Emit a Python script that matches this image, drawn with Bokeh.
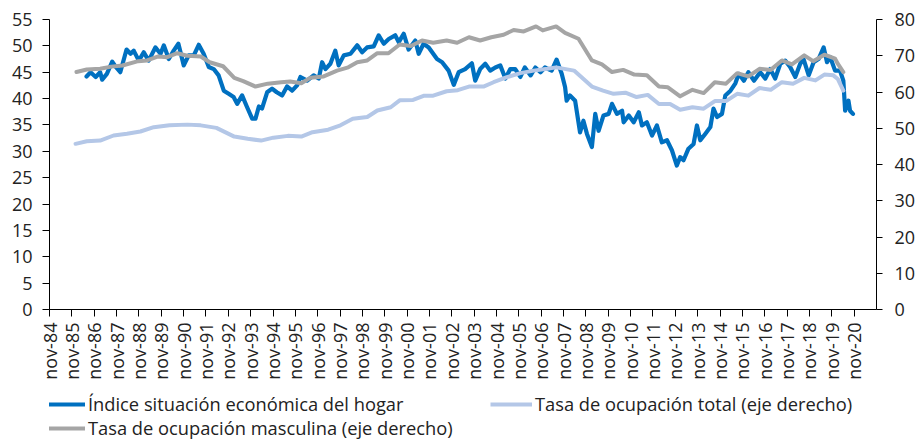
import math
from bokeh.plotting import figure
from bokeh.layouts import column
from bokeh.models import Range1d, LinearAxis, FixedTicker, Legend, LegendItem
from bokeh.embed import file_html
from bokeh.resources import INLINE

# ---------------- data (decimal years, values) ----------------
tick_labels = ["nov-84", "nov-85", "nov-86", "nov-87", "nov-88", "nov-89", "nov-90",
               "nov-91", "nov-92", "nov-93", "nov-94", "nov-95", "nov-96", "nov-97",
               "nov-98", "nov-99", "nov-00", "nov-01", "nov-02", "nov-03", "nov-04",
               "nov-05", "nov-06", "nov-07", "nov-08", "nov-09", "nov-10", "nov-11",
               "nov-12", "nov-13", "nov-14", "nov-15", "nov-16", "nov-17", "nov-18",
               "nov-19", "nov-20"]

hogar_t = [1986.49, 1986.67, 1986.90, 1987.10, 1987.19, 1987.40, 1987.64, 1987.80, 1988.00,
           1988.28, 1988.46, 1988.60, 1988.83, 1989.05, 1989.27, 1989.57, 1989.80, 1989.95,
           1990.17, 1990.39, 1990.60, 1990.84, 1991.06, 1991.29, 1991.51, 1991.73, 1991.96,
           1992.18, 1992.40, 1992.63, 1992.85, 1993.07, 1993.23, 1993.45, 1993.67, 1993.90,
           1994.05, 1994.20, 1994.34, 1994.57, 1994.79, 1995.00, 1995.24, 1995.46, 1995.69,
           1995.91, 1996.06, 1996.36, 1996.65, 1996.88, 1997.03, 1997.18, 1997.40, 1997.62,
           1997.77, 1998.00, 1998.30, 1998.60, 1998.82, 1999.04, 1999.34, 1999.56, 1999.79,
           2000.01, 2000.30, 2000.46, 2000.68, 2000.90, 2001.20, 2001.35, 2001.57, 2001.80,
           2002.17, 2002.40, 2002.69, 2002.92, 2003.14, 2003.43, 2003.73, 2003.88, 2004.10,
           2004.33, 2004.55, 2004.78, 2005.00, 2005.23, 2005.45, 2005.67, 2005.90, 2006.10,
           2006.36, 2006.57, 2006.80, 2007.00, 2007.30, 2007.52, 2007.75, 2007.90, 2007.97,
           2008.12, 2008.35, 2008.57, 2008.72, 2008.88, 2009.10, 2009.25, 2009.40, 2009.62,
           2009.85, 2010.00, 2010.22, 2010.45, 2010.52, 2010.75, 2010.97, 2011.20, 2011.34,
           2011.56, 2011.79, 2012.01, 2012.23, 2012.46, 2012.68, 2012.90, 2013.05, 2013.20,
           2013.42, 2013.65, 2013.80, 2013.95, 2014.17, 2014.40, 2014.54, 2014.70, 2014.92,
           2015.07, 2015.30, 2015.52, 2015.67, 2015.90, 2016.10, 2016.35, 2016.63, 2016.86,
           2017.08, 2017.30, 2017.53, 2017.75, 2017.97, 2018.20, 2018.42, 2018.57, 2018.80,
           2019.02, 2019.24, 2019.47, 2019.62, 2019.76, 2019.98, 2020.20, 2020.35, 2020.43,
           2020.58, 2020.65, 2020.78]
hogar_v = [44.2, 45.0, 44.1, 45.0, 43.6, 44.7, 47.0, 46.0, 45.0,
           49.3, 48.5, 49.1, 47.2, 48.8, 47.2, 49.7, 48.5, 50.1,
           47.5, 49.1, 50.4, 46.3, 48.2, 48.2, 50.2, 48.5, 46.0,
           45.6, 44.4, 41.5, 40.9, 40.3, 39.0, 40.6, 38.4, 36.2,
           36.2, 38.5, 38.1, 41.2, 41.9, 41.2, 40.6, 42.3, 41.5,
           42.5, 44.1, 43.4, 44.4, 43.8, 46.9, 45.6, 46.6, 49.1,
           46.3, 48.2, 48.5, 50.1, 48.8, 49.7, 49.9, 52.0, 50.4,
           51.3, 52.0, 50.7, 52.3, 49.3, 51.0, 48.5, 50.4, 49.7,
           47.5, 46.9, 45.3, 42.6, 45.0, 45.6, 46.7, 43.4, 45.6,
           46.6, 45.3, 45.9, 46.3, 43.8, 45.6, 45.6, 44.1, 45.9,
           44.4, 45.9, 45.0, 45.9, 45.3, 47.4, 44.7, 42.2, 39.6,
           40.6, 39.6, 33.6, 35.8, 33.3, 30.8, 37.1, 33.9, 36.8,
           37.1, 39.0, 37.1, 37.7, 35.5, 36.8, 35.5, 37.4, 34.9,
           35.5, 33.0, 34.9, 31.7, 32.1, 30.2, 27.3, 28.9, 28.3,
           30.5, 31.4, 34.9, 32.1, 33.3, 34.6, 38.1, 36.5, 37.1,
           40.6, 41.5, 42.9, 44.7, 43.4, 45.0, 43.4, 45.0, 43.8,
           45.6, 43.8, 46.6, 47.2, 46.0, 44.1, 46.6, 47.5, 44.4,
           46.9, 47.5, 49.7, 46.9, 47.9, 45.3, 45.3, 43.4, 37.7,
           39.6, 37.7, 37.1]

total_t = [1986.00, 1986.50, 1987.10, 1987.70, 1988.30, 1988.90, 1989.50, 1990.20, 1991.00,
           1991.60, 1992.30, 1993.10, 1993.70, 1994.30, 1994.85, 1995.50, 1996.10, 1996.60,
           1997.30, 1997.85, 1998.40, 1999.05, 1999.50, 2000.10, 2000.50, 2001.10, 2001.60,
           2002.00, 2002.60, 2003.10, 2003.60, 2004.25, 2004.70, 2005.30, 2005.90, 2006.50,
           2007.10, 2007.50, 2008.30, 2009.10, 2009.60, 2010.07, 2010.60, 2011.10, 2011.60,
           2012.10, 2012.60, 2013.05, 2013.60, 2014.10, 2014.60, 2015.10, 2015.60, 2016.10,
           2016.60, 2017.10, 2017.60, 2018.10, 2018.60, 2019.10, 2019.50, 2019.90, 2020.10,
           2020.35]
total_v = [45.7, 46.4, 46.6, 48.0, 48.5, 49.1, 50.3, 50.8, 51.0,
           50.8, 50.1, 47.7, 47.1, 46.6, 47.4, 47.9, 47.7, 48.9,
           49.6, 50.8, 52.6, 53.1, 54.9, 55.8, 57.7, 57.8, 59.0,
           59.0, 60.2, 60.5, 61.5, 61.5, 62.7, 64.1, 65.2, 65.9,
           66.4, 66.8, 65.9, 61.5, 60.4, 59.5, 59.8, 58.6, 59.2,
           56.7, 56.7, 55.1, 55.8, 55.4, 57.5, 57.5, 59.5, 59.0,
           61.1, 60.6, 62.7, 62.3, 63.9, 63.2, 64.8, 64.6, 63.6,
           60.4]

masc_t = [1986.04, 1986.50, 1987.10, 1987.60, 1988.10, 1988.80, 1989.20, 1989.70, 1990.10,
          1990.55, 1991.00, 1991.60, 1992.00, 1992.60, 1993.10, 1993.50, 1994.05, 1994.60,
          1995.20, 1995.60, 1996.10, 1996.50, 1997.10, 1997.70, 1998.20, 1998.60, 1999.05,
          1999.50, 2000.00, 2000.50, 2001.00, 2001.50, 2002.00, 2002.60, 2003.07, 2003.60,
          2004.10, 2004.60, 2005.15, 2005.60, 2006.05, 2006.60, 2006.90, 2007.50, 2007.90,
          2008.50, 2009.10, 2009.55, 2010.00, 2010.50, 2011.00, 2011.56, 2012.10, 2012.50,
          2013.05, 2013.60, 2014.10, 2014.60, 2015.10, 2015.60, 2016.10, 2016.60, 2017.10,
          2017.60, 2018.05, 2018.60, 2019.00, 2019.50, 2019.98, 2020.10, 2020.35]
masc_v = [65.5, 66.2, 66.4, 67.0, 67.3, 68.5, 68.7, 69.8, 69.6,
          70.7, 70.0, 69.8, 68.2, 67.1, 63.9, 63.0, 61.5, 62.3,
          62.7, 62.9, 62.4, 63.9, 64.3, 65.9, 66.8, 68.2, 68.7,
          70.7, 70.7, 73.1, 72.7, 74.2, 73.6, 74.2, 73.6, 75.1,
          74.2, 75.1, 75.8, 77.1, 76.7, 78.1, 77.0, 78.1, 76.3,
          74.7, 68.7, 67.6, 65.5, 66.1, 64.8, 64.6, 61.5, 61.3,
          58.8, 60.6, 59.7, 62.7, 62.3, 65.2, 64.3, 66.4, 66.1,
          68.7, 67.6, 70.1, 68.5, 70.3, 69.2, 67.8, 65.5]

left_ticks = [0, 5, 10, 15, 20, 25, 30, 35, 40, 45, 50, 55]
right_ticks = [0, 10, 20, 30, 40, 50, 60, 70, 80]
series_labels = ["Índice situación económica del hogar",
                 "Tasa de ocupación total (eje derecho)",
                 "Tasa de ocupación masculina (eje derecho)"]

# ---------------- helpers ----------------
def months(ts):
    # decimal year -> months since jan-1984 (x axis unit)
    return [(t - 1984.0) * 12.0 for t in ts]

tick_pos = [10 + 12 * k for k in range(len(tick_labels))]

FONT = "Open Sans"
TXT = "#222222"
BLUE = "#0070C0"
LBLUE = "#B4C7E7"
GRAY = "#A5A5A5"

W = 918
H_MAIN = 385
H_LEG = 55
BL, BR = 49, W - 876

p = figure(width=W, height=H_MAIN, output_backend="svg", toolbar_location=None,
           x_range=Range1d(10, 10 + 12 * 37), y_range=Range1d(0, 55),
           min_border_left=BL, min_border_right=BR, min_border_top=19,
           min_border_bottom=H_MAIN - 309)
p.extra_y_ranges = {"right": Range1d(0, 80)}
p.grid.visible = False
p.outline_line_color = None
p.background_fill_color = "white"
p.border_fill_color = "white"

# x axis
xa = p.xaxis[0]
xa.ticker = FixedTicker(ticks=tick_pos)
xa.major_label_overrides = {pos: lab for pos, lab in zip(tick_pos, tick_labels)}
xa.major_label_orientation = math.pi / 2
xa.major_tick_in = 0
xa.major_tick_out = 7
xa.minor_tick_line_color = None
xa.major_label_standoff = 6
xa.axis_line_color = "#000000"
xa.major_tick_line_color = "#000000"
xa.major_label_text_font = FONT
xa.major_label_text_font_size = "18px"
xa.major_label_text_color = TXT

# left axis
ya = p.yaxis[0]
ya.ticker = FixedTicker(ticks=left_ticks)
ya.major_tick_in = 0
ya.major_tick_out = 7
ya.minor_tick_line_color = None
ya.major_label_standoff = 10
ya.axis_line_color = "#000000"
ya.major_tick_line_color = "#000000"
ya.major_label_text_font = FONT
ya.major_label_text_font_size = "18px"
ya.major_label_text_color = TXT

# right axis
ra = LinearAxis(y_range_name="right", ticker=FixedTicker(ticks=right_ticks))
ra.major_tick_in = 0
ra.major_tick_out = 6
ra.minor_tick_line_color = None
ra.major_label_standoff = 12
ra.axis_line_color = "#000000"
ra.major_tick_line_color = "#000000"
ra.major_label_text_font = FONT
ra.major_label_text_font_size = "18px"
ra.major_label_text_color = TXT
p.add_layout(ra, "right")

p.line(months(hogar_t), hogar_v, line_color=BLUE, line_width=4.2,
       line_join="round", line_cap="round")
p.line(months(total_t), total_v, y_range_name="right", line_color=LBLUE,
       line_width=4, line_join="round", line_cap="round")
p.line(months(masc_t), masc_v, y_range_name="right", line_color=GRAY,
       line_width=4, line_join="round", line_cap="round")

# ---------------- legend strip (separate figure below, frame aligned) ----------------
lg = figure(width=W, height=H_LEG, output_backend="svg", toolbar_location=None,
            x_range=Range1d(0, 1), y_range=Range1d(0, 1),
            x_axis_type=None, y_axis_type=None,
            min_border_left=BL, min_border_right=BR, min_border_top=0, min_border_bottom=0)
lg.grid.visible = False
lg.outline_line_color = None
lg.background_fill_color = "white"
lg.border_fill_color = "white"

# legend-only renderers, their points lie outside the visible range
dummy_blue = lg.line([-5, -4], [-5, -5], line_color=BLUE, line_width=4.2)
dummy_lblue = lg.line([-5, -4], [-5, -5], line_color=LBLUE, line_width=4)
dummy_gray = lg.line([-5, -4], [-5, -5], line_color=GRAY, line_width=4)

common = dict(border_line_color=None, background_fill_alpha=0, padding=0, margin=0,
              glyph_width=42, glyph_height=20, label_height=20, label_standoff=3,
              label_text_font=FONT, label_text_font_size="18.3px", label_text_color=TXT)

for label, rend, loc in [(series_labels[0], dummy_blue, (-6, 24)),
                         (series_labels[1], dummy_lblue, (441, 24)),
                         (series_labels[2], dummy_gray, (-6, 0))]:
    lg.add_layout(Legend(items=[LegendItem(label=label, renderers=[rend])],
                         location=loc, **common), "center")

layout = column(p, lg, spacing=0)
open("out.html", "w").write(file_html(layout, INLINE))
